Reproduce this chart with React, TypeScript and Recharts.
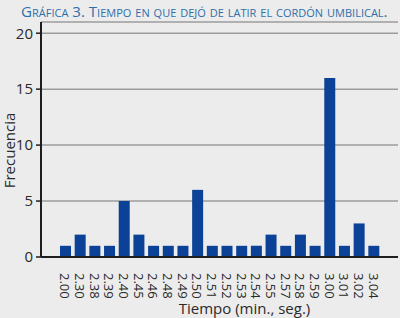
import { BarChart, Bar, XAxis, YAxis, CartesianGrid } from 'recharts'

const tiempos = [
  '2.00', '2.30', '2.38', '2.39', '2.40', '2.45', '2.46', '2.48', '2.49', '2.50', '2.51',
  '2.52', '2.53', '2.54', '2.55', '2.57', '2.58', '2.59', '3.00', '3.01', '3.02', '3.04',
]
const frecuencias = [1, 2, 1, 1, 5, 2, 1, 1, 1, 6, 1, 1, 1, 1, 2, 1, 2, 1, 16, 1, 3, 1]
const yTicks = [0, 5, 10, 15, 20]

const data = tiempos.map((t, i) => ({ tiempo: t, frecuencia: frecuencias[i] }))

const font = '"Open Sans", "Noto Sans", sans-serif'

function RotatedTick({ x, y, payload }: { x?: number; y?: number; payload?: { value: string } }) {
  return (
    <text
      x={x}
      y={(y ?? 0) + 8}
      transform={`rotate(90, ${x}, ${(y ?? 0) + 8})`}
      textAnchor="start"
      dominantBaseline="central"
      fontSize={13}
      fill="#2a2a2a"
      fontFamily={font}
    >
      {payload?.value}
    </text>
  )
}

export default function App() {
  return (
    <div
      style={{
        position: 'absolute',
        top: 0,
        left: 0,
        width: 400,
        height: 318,
        background: '#ececec',
        fontFamily: font,
      }}
    >
      <div
        style={{
          position: 'absolute',
          top: 1,
          left: 21,
          fontSize: 15.1,
          fontVariant: 'small-caps',
          color: '#2f6fa9',
          whiteSpace: 'nowrap',
        }}
      >
        Gráfica 3. Tiempo en que dejó de latir el cordón umbilical.
      </div>
      <BarChart
        width={400}
        height={318}
        data={data}
        margin={{ top: 22, right: 2, left: 0, bottom: 0 }}
        barSize={11}
      >
        <CartesianGrid vertical={false} stroke="#9c9c9c" strokeWidth={1.5} />
        <XAxis
          dataKey="tiempo"
          interval={0}
          height={61}
          padding={{ left: 17, right: 17 }}
          tickLine={false}
          axisLine={{ stroke: '#1e1e1e', strokeWidth: 2 }}
          tick={<RotatedTick />}
          label={{
            value: 'Tiempo (min., seg.)',
            position: 'insideBottom',
            offset: 4,
            dx: 25,
            fontSize: 15,
            fill: '#2a2a2a',
            fontFamily: font,
          }}
        />
        <YAxis
          domain={[0, 21]}
          ticks={yTicks}
          width={41}
          tickSize={5}
          tickMargin={3}
          axisLine={{ stroke: '#1e1e1e', strokeWidth: 2 }}
          tickLine={{ stroke: '#1e1e1e', strokeWidth: 1.5 }}
          tick={{ fontSize: 15, fill: '#2a2a2a', fontFamily: font }}
          label={{
            value: 'Frecuencia',
            angle: -90,
            position: 'center',
            dx: -11,
            dy: 11,
            fontSize: 15,
            fill: '#2a2a2a',
            fontFamily: font,
          }}
        />
        <Bar dataKey="frecuencia" fill="#0b4197" isAnimationActive={false} />
      </BarChart>
    </div>
  )
}
